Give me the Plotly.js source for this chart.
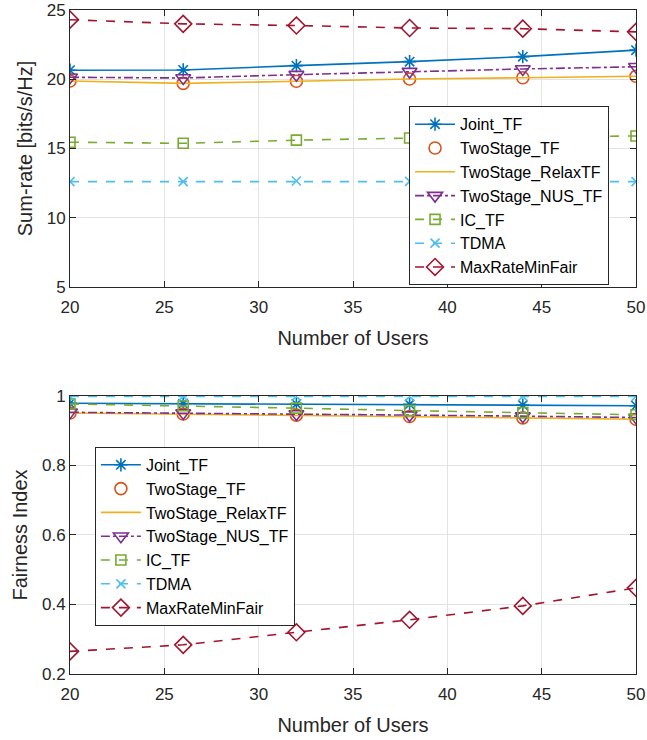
<!DOCTYPE html>
<html>
<head>
<meta charset="utf-8">
<script src="https://cdn.plot.ly/plotly-3.0.1.min.js"></script>
<style>html,body{margin:0;padding:0;background:#fff;}#chart{width:647px;height:740px;}</style>
</head>
<body>
<div id="chart"></div>
<script>
var users = [20, 26, 32, 38, 44, 50];

var names = ["Joint_TF", "TwoStage_TF", "TwoStage_RelaxTF", "TwoStage_NUS_TF", "IC_TF", "TDMA", "MaxRateMinFair"];

// Sum-rate [bits/s/Hz]
var rateJoint   = [20.65, 20.67, 20.98, 21.27, 21.63, 22.10];
var rateTwo     = [19.87, 19.70, 19.85, 20.02, 20.11, 20.21];
var rateRelax   = [19.87, 19.70, 19.85, 20.02, 20.11, 20.21];
var rateNUS     = [20.14, 20.09, 20.33, 20.55, 20.74, 20.90];
var rateIC      = [15.45, 15.37, 15.60, 15.75, 15.82, 15.90];
var rateTDMA    = [12.60, 12.60, 12.65, 12.62, 12.62, 12.60];
var rateMaxMin  = [24.30, 24.00, 23.88, 23.70, 23.65, 23.42];

// Fairness index
var fairJoint   = [0.979, 0.978, 0.977, 0.976, 0.974, 0.972];
var fairTwo     = [0.951, 0.948, 0.945, 0.941, 0.937, 0.933];
var fairRelax   = [0.951, 0.948, 0.945, 0.941, 0.937, 0.933];
var fairNUS     = [0.953, 0.951, 0.948, 0.945, 0.942, 0.938];
var fairIC      = [0.977, 0.972, 0.965, 0.958, 0.952, 0.946];
var fairTDMA    = [0.999, 0.999, 0.999, 0.999, 0.999, 0.999];
var fairMaxMin  = [0.265, 0.284, 0.320, 0.356, 0.396, 0.448];

var xTicks = [20, 25, 30, 35, 40, 45, 50];
var rateTicks = [5, 10, 15, 20, 25];
var fairTicks = [0.2, 0.4, 0.6, 0.8, 1];
var fairTickText = ["0.2", "0.4", "0.6", "0.8", "1"];

var styles = [
  {color: "#0072BD", dash: "solid", mode: "lines+markers", symbol: "asterisk-open", size: 11},
  {color: "#D95319", dash: "solid", mode: "markers", symbol: "circle-open", size: 12},
  {color: "#EDB120", dash: "solid", mode: "lines", symbol: "circle", size: 1},
  {color: "#7E2F8E", dash: "dashdot", mode: "lines+markers", symbol: "triangle-down-open", size: 13},
  {color: "#77AC30", dash: "dash", mode: "lines+markers", symbol: "square-open", size: 10},
  {color: "#4DBEEE", dash: "dash", mode: "lines+markers", symbol: "x-thin-open", size: 9},
  {color: "#A2142F", dash: "dash", mode: "lines+markers", symbol: "diamond-open", size: 13}
];

var rateSeries = [rateJoint, rateTwo, rateRelax, rateNUS, rateIC, rateTDMA, rateMaxMin];
var fairSeries = [fairJoint, fairTwo, fairRelax, fairNUS, fairIC, fairTDMA, fairMaxMin];

function mk(i, ys, xa, ya, leg) {
  var s = styles[i];
  return {
    x: users, y: ys, name: names[i], xaxis: xa, yaxis: ya, legend: leg,
    type: "scatter", mode: s.mode,
    line: {color: s.color, width: 1.6, dash: s.dash},
    marker: {symbol: s.symbol, size: s.size, color: s.color, line: {color: s.color, width: 1.6}}
  };
}

var data = [];
for (var i = 0; i < names.length; i++) data.push(mk(i, rateSeries[i], "x", "y", "legend"));
for (var j = 0; j < names.length; j++) data.push(mk(j, fairSeries[j], "x2", "y2", "legend2"));

var axCol = "#262626";
var fontFam = "Liberation Sans, Arial, sans-serif";
function xax(anchor) {
  return {
    anchor: anchor, range: [20, 50], tickvals: xTicks, ticks: "inside", ticklen: 6,
    tickcolor: axCol, showline: true, linecolor: axCol, linewidth: 1, mirror: "ticks",
    showgrid: true, gridcolor: "#e3e3e3", zeroline: false, ticklabelstandoff: 5,
    tickfont: {size: 17, color: axCol, family: fontFam},
    title: {text: "Number of Users", font: {size: 20, color: axCol, family: fontFam}, standoff: 14}
  };
}

var layout = {
  width: 647, height: 740,
  margin: {l: 70, r: 11, t: 10, b: 66},
  paper_bgcolor: "#fff", plot_bgcolor: "#fff",
  font: {family: fontFam, color: axCol},
  showlegend: true,
  xaxis: xax("y"),
  xaxis2: xax("y2"),
  yaxis: {
    domain: [0.583, 1], anchor: "x", range: [5, 25], tickvals: rateTicks,
    ticks: "inside", ticklen: 6, tickcolor: axCol, showline: true, linecolor: axCol, mirror: "ticks",
    showgrid: true, gridcolor: "#e3e3e3", zeroline: false,
    tickfont: {size: 17, color: axCol, family: fontFam},
    title: {text: "Sum-rate [bits/s/Hz]", font: {size: 20, color: axCol, family: fontFam}, standoff: 8}
  },
  yaxis2: {
    domain: [0, 0.4187], anchor: "x2", range: [0.2, 1], tickvals: fairTicks, ticktext: fairTickText,
    ticks: "inside", ticklen: 6, tickcolor: axCol, showline: true, linecolor: axCol, mirror: "ticks",
    showgrid: true, gridcolor: "#e3e3e3", zeroline: false,
    tickfont: {size: 17, color: axCol, family: fontFam},
    title: {text: "Fairness Index", font: {size: 20, color: axCol, family: fontFam}, standoff: 8}
  },
  legend: {
    x: 0.599, y: 0.855, xanchor: "left", yanchor: "top",
    bgcolor: "#fff", bordercolor: axCol, borderwidth: 1,
    font: {size: 16, color: "#000", family: fontFam}, tracegroupgap: 0, itemwidth: 40
  },
  legend2: {
    x: 0.044, y: 0.342, xanchor: "left", yanchor: "top",
    bgcolor: "#fff", bordercolor: axCol, borderwidth: 1,
    font: {size: 16, color: "#000", family: fontFam}, tracegroupgap: 0, itemwidth: 40
  }
};

Plotly.newPlot("chart", data, layout, {displayModeBar: false, staticPlot: true});
</script>
</body>
</html>
